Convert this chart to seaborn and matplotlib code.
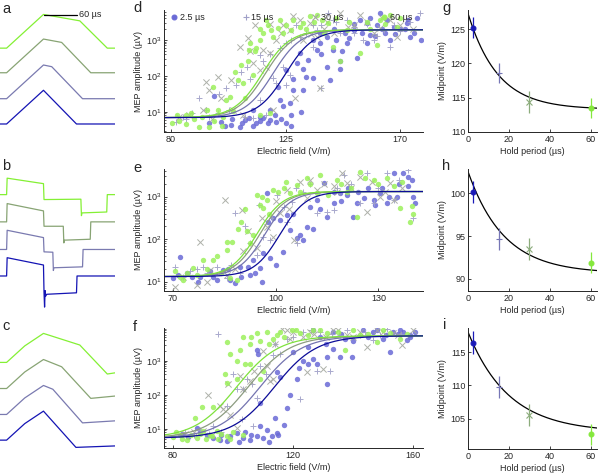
import numpy as np
import matplotlib
matplotlib.use("Agg")
import matplotlib.pyplot as plt
from matplotlib.lines import Line2D
import seaborn as sns

sns.set_theme(style="white")
plt.rcParams.update({
    'font.size': 6.5,
    'axes.labelsize': 6.5,
    'xtick.labelsize': 6.5,
    'ytick.labelsize': 6.5,
    'axes.edgecolor': '#262626',
    'axes.linewidth': 0.7,
    'text.color': '#262626',
    'axes.labelcolor': '#262626',
    'mathtext.fontset': 'custom',
    'mathtext.rm': 'Liberation Sans',
    'mathtext.it': 'Liberation Sans:italic',
})
plt.rcParams['font.family'] = ['Liberation Sans', 'DejaVu Sans']

W, H = 598, 475

HOLDS = [2.5, 15, 30, 60]
HOLD_LABELS = ['2.5 µs', '15 µs', '30 µs', '60 µs']
MARKERS = ['o', '+', 'x', 'o']

WAVE_COLORS = ['#1414b4', '#7a7ab0', '#88a474', '#84f034']
FIT_COLORS = ['#0c0c98', '#7474b0', '#8c9c80', '#7ee23c']
PT_COLORS = ['#6a6ad6', '#a0a0c8', '#a4a8a0', '#9cf05c']
ERR_COLORS = ['#1a1ab8', '#7676b6', '#8cac7c', '#84e83c']

# ---- waveforms (time in us, amplitude normalised to peak) ----
a_t_25 = [0, 12, 79, 139, 209]
a_v_25 = [0, 0, 1.0, 0, 0]
a_t_15 = [0, 12, 79, 94, 150, 209]
a_v_15 = [0, 0, 1.0, 0.95, 0, 0]
a_t_30 = [0, 12, 79, 112, 165, 209]
a_v_30 = [0, 0, 1.0, 0.9, 0, 0]
a_t_60 = [0, 12, 79, 145, 195, 209]
a_v_60 = [0, 0, 1.0, 0.81, 0, 0]

b_t_25 = [0, 12, 13, 79, 80, 81, 82, 83, 85, 139, 140, 209]
b_v_25 = [0, 0, 1.0, 0.6, -0.9, -1.7, -0.8, -1.1, -1.0, -0.92, 0, 0]
b_t_15 = [0, 12, 13, 79, 80, 96, 97, 98, 150, 151, 209]
b_v_15 = [0, 0, 1.05, 0.65, -0.13, -0.15, -1.15, -1.0, -0.95, 0, 0]
b_t_30 = [0, 12, 13, 79, 80, 115, 116, 117, 164, 165, 209]
b_v_30 = [0, 0, 1.0, 0.6, -0.24, -0.24, -1.15, -1.0, -0.95, 0, 0]
b_t_60 = [0, 12, 13, 79, 80, 147, 148, 149, 194, 195, 209]
b_v_60 = [0, 0, 0.9, 0.6, -0.27, -0.25, -1.15, -1.0, -0.95, 0, 0]

c_t_25 = [0, 12, 45, 79, 138, 209]
c_v_25 = [0, 0, 0.57, 1.0, -0.25, -0.2]
c_t_15 = [0, 12, 45, 79, 96, 150, 209]
c_v_15 = [0, 0, 0.57, 1.0, 0.87, -0.29, -0.22]
c_t_30 = [0, 12, 45, 79, 112, 165, 209]
c_v_30 = [0, 0, 0.57, 1.0, 0.75, -0.34, -0.26]
c_t_60 = [0, 12, 45, 79, 145, 195, 209]
c_v_60 = [0, 0, 0.57, 1.0, 0.6, -0.4, -0.36]

# ---- MEP scatter: (electric field V/m, log10 amplitude uV) ----
d_pts_25 = [(97, 1.44), (95, 0.69), (99.6, 0.73), (103.6, 0.64), (109.2, 0.76), (112.1, 1.06),
            (113.5, 0.69), (114.8, 0.87), (118.7, 1.06), (120.7, 0.92), (118, 0.69), (122.7, 1.33),
            (124, 1.15), (126.6, 1.24), (128, 1.61), (131.9, 1.61), (125.3, 2.17), (129.3, 2.35),
            (130.6, 2.63), (133.9, 2.44), (135.9, 1.94), (135.9, 3.0), (137.2, 2.72), (138.5, 2.91),
            (141.1, 3.09), (143.8, 2.72), (147.1, 2.68), (146.4, 2.4), (153, 2.49), (148.4, 3.19),
            (151.7, 3.28), (154.3, 3.56), (156.9, 3.46), (158.3, 3.14), (160.9, 3.42), (162.2, 3.74),
            (164.2, 3.19), (164.8, 3.56), (167.5, 3.37), (172.8, 3.46), (175.4, 3.19), (178.2, 3.0),
            (171.9, 3.3), (174, 3.07), (176.8, 3.6), (106.9, 0.59), (110.8, 0.82), (121.4, 0.73),
            (116.1, 0.82), (127.3, 0.92), (133.2, 1.98), (141.1, 2.26), (142.4, 1.89), (146.4, 2.2),
            (138.5, 3.19), (149, 2.91), (157, 2.91), (166.2, 3.0), (131, 1.0), (123, 0.8),
            (127, 0.62), (119, 0.78), (112, 0.6), (104, 0.8), (101, 0.62), (108, 0.7), (115, 0.75),
            (125, 0.7), (145, 3.0), (150, 3.05), (155, 3.2), (160, 3.1), (163, 3.3), (168, 3.15),
            (170, 3.3), (173, 3.55), (158, 3.6), (152, 3.45), (144, 3.3), (139, 2.6), (132, 2.2),
            (128, 1.9), (122, 1.7)]
d_pts_15 = [(91.1, 1.38), (101.6, 1.66), (105.6, 1.75), (107.5, 2.12), (109.8, 2.26), (108.9, 0.87),
            (102.9, 1.06), (98.3, 0.96), (93.7, 1.06), (88.4, 0.96), (114.8, 1.33), (120.1, 1.94),
            (121.4, 1.8), (124, 2.26), (125.3, 1.75), (126.6, 2.03), (117.4, 0.92), (114.8, 2.58),
            (122.7, 2.77), (127.3, 3.0), (130.6, 3.09), (133.2, 3.19), (141.8, 3.74), (143.8, 3.56),
            (149, 3.56), (151.7, 3.37), (155.6, 3.0), (159.6, 3.0), (163.5, 3.28), (166.2, 2.81),
            (167.5, 3.42), (137.2, 3.28), (135.9, 2.81), (146.4, 3.19), (135.9, 3.42), (81.8, 0.73),
            (84.5, 0.87), (95, 0.87), (112.1, 0.82), (178, 3.74), (138.9, 1.66), (86, 0.8),
            (99, 1.5), (111, 1.9), (116, 2.4), (119, 2.6), (125, 2.9), (129, 3.4), (139, 3.4),
            (145, 3.5), (152, 3.2), (157, 3.45), (161, 3.1), (170, 3.25), (174, 3.5)]
d_pts_30 = [(93.7, 1.84), (95, 1.61), (99.6, 1.38), (103.6, 1.89), (107, 2.81), (110.2, 3.05),
            (112.1, 2.35), (114.8, 2.17), (117.4, 2.26), (116.1, 2.72), (124, 3.42), (126.6, 3.28),
            (121.4, 3.0), (128.6, 1.38), (138.5, 1.66), (92.4, 1.06), (87.1, 0.92), (104.2, 1.06),
            (108.2, 0.92), (120.1, 1.06), (130.6, 3.56), (134.5, 3.46), (141.1, 3.51), (146.4, 3.74),
            (149.7, 3.37), (154.3, 3.69), (159.6, 3.19), (162.2, 3.32), (166.2, 3.56), (168.8, 3.09),
            (131.9, 3.0), (137.2, 3.09), (98.3, 1.98), (118.7, 2.63), (83, 0.85), (96, 0.8),
            (111, 2.7), (113, 3.4), (119, 3.45), (123, 3.2), (128, 3.65), (135, 3.15), (140, 3.3),
            (144, 3.2), (152, 3.4), (157, 3.5), (163, 3.6), (170, 3.4), (175, 3.3)]
d_pts_60 = [(80.5, 0.69), (82.5, 0.92), (85.8, 0.92), (87.8, 0.96), (91.1, 0.59), (95, 0.59),
            (96.3, 1.7), (98.3, 1.06), (100.3, 0.87), (101.6, 1.33), (104.2, 1.01), (106.2, 1.89),
            (107.5, 2.31), (108.2, 1.8), (108.9, 1.38), (110.2, 2.4), (110.8, 2.72), (112.8, 2.68),
            (112.1, 2.03), (113.5, 2.77), (114.8, 3.0), (116.1, 3.19), (117.4, 3.56), (119.4, 3.28),
            (120.1, 3.09), (122, 3.32), (122.7, 3.56), (125.3, 3.42), (127.3, 3.28), (131.9, 3.46),
            (134.5, 3.65), (137.2, 3.69), (139.2, 3.56), (141.8, 3.46), (143.8, 2.81), (146.4, 2.4),
            (154.3, 2.63), (160.9, 2.86), (156.9, 3.51), (162.2, 3.56), (166.2, 3.69), (168.8, 3.37),
            (118.7, 0.96), (114.8, 0.92), (130.6, 3.37), (149, 3.28), (83, 0.75), (86, 0.65),
            (89, 0.8), (92, 0.85), (97, 0.75), (100, 0.62), (94, 1.05), (103, 1.4), (105, 2.1),
            (111, 2.9), (115, 3.3), (118, 3.4), (124, 3.2), (128, 3.55), (133, 3.3), (136, 3.5),
            (140, 3.2), (145, 3.6), (150, 3.5), (158, 3.3), (164, 3.45), (170, 3.6)]

e_pts_25 = [(72, 1.59), (70.1, 1.08), (71.6, 1.16), (75.5, 1.12), (77.4, 1.0), (80.8, 1.24),
            (81.8, 1.12), (84.7, 1.27), (86.7, 1.04), (88.1, 0.96), (89.6, 1.35), (92, 1.35),
            (93.5, 1.51), (95.4, 1.31), (96.4, 1.67), (98.4, 1.55), (92.5, 1.16), (97.4, 3.08),
            (97.9, 2.41), (99.3, 2.49), (101.3, 2.45), (103.2, 2.57), (104.2, 2.22), (106.2, 2.02),
            (107.1, 2.1), (108.1, 1.98), (109.1, 2.29), (111, 2.25), (110.1, 2.76), (112, 2.92),
            (114.9, 2.53), (116.9, 2.84), (118.8, 3.08), (120.8, 3.04), (123.7, 2.84), (125.7, 2.96),
            (128.6, 2.92), (130.5, 3.08), (132.5, 2.84), (134.4, 3.55), (135.4, 3.0), (114, 3.31),
            (122.7, 2.53), (137.3, 3.55), (138.7, 3.47), (139.7, 3.39), (138.7, 3.24), (140.7, 2.84),
            (140.2, 3.0), (74, 1.2), (78, 1.1), (83, 1.05), (86, 1.3), (90, 1.1), (94, 1.2),
            (96, 1.0), (100, 1.4), (102, 1.7), (105, 2.6), (113, 2.7), (117, 3.1), (119, 2.9),
            (121, 3.2), (124, 3.1), (127, 3.2), (129, 2.8), (131, 3.2), (133, 3.0), (136, 3.3)]
e_pts_15 = [(70.6, 1.35), (75, 1.24), (78.9, 1.35), (82.8, 1.35), (88.1, 2.61), (92.5, 1.9),
            (94.5, 1.63), (96.4, 2.06), (98.4, 1.98), (100.3, 3.04), (102.3, 2.76), (103.2, 2.41),
            (104.7, 2.88), (108.1, 3.12), (112, 2.61), (114.9, 2.65), (116.9, 2.69), (119.8, 3.51),
            (124.7, 2.84), (126.6, 3.55), (128.6, 2.84), (132.5, 3.55), (134.4, 2.92), (106.2, 1.9),
            (85.7, 1.08), (89.6, 1.2), (138.7, 3.63), (140.2, 2.49), (73, 1.1), (77, 1.3),
            (80, 1.2), (87, 1.4), (91, 2.3), (95, 2.8), (99, 2.5), (106, 3.2), (110, 3.3),
            (118, 3.2), (122, 3.3), (130, 3.2), (136, 3.4)]
e_pts_30 = [(70.6, 0.88), (78, 1.94), (77, 0.92), (85.2, 2.92), (90.1, 2.69), (90.6, 1.71),
            (94.5, 1.78), (97.4, 2.29), (101.3, 2.61), (105.2, 1.98), (107.1, 3.35), (109.1, 2.96),
            (112, 3.16), (116.9, 3.24), (119.3, 3.55), (120.8, 3.31), (124.7, 3.47), (126.6, 2.65),
            (130.5, 3.0), (133.4, 3.31), (134.4, 2.92), (80.8, 1.27), (85.7, 1.16), (99.3, 2.06),
            (103.2, 3.16), (73, 1.1), (80, 1.0), (88, 1.3), (92, 2.2), (96, 2.5), (100, 2.9),
            (104, 2.7), (110, 3.4), (114, 3.3), (118, 3.1), (122, 3.2), (128, 3.35), (132, 3.1),
            (137, 3.2)]
e_pts_60 = [(70.6, 1.24), (73, 1.04), (75.9, 1.31), (78.9, 1.51), (81.8, 1.51), (85.7, 1.75),
            (87.2, 1.94), (89.1, 2.25), (85.7, 1.94), (86.7, 1.08), (88.6, 1.04), (91.5, 2.18),
            (92.5, 1.9), (93.5, 2.1), (94.5, 3.04), (95.4, 2.8), (96.4, 2.73), (97.4, 2.92),
            (99.3, 3.16), (100.8, 3.12), (102.3, 3.2), (104.2, 3.08), (106.2, 3.27), (109.1, 3.43),
            (112, 3.08), (115.4, 3.04), (117.9, 3.39), (120.8, 3.12), (123.7, 2.53), (124.7, 3.59),
            (128.6, 3.39), (132.5, 3.43), (134.4, 3.24), (136.4, 2.73), (139.7, 2.79), (139.2, 2.4),
            (140.2, 2.6), (72, 1.1), (74, 1.2), (77, 1.15), (80, 1.3), (83, 1.6), (84, 1.2),
            (90, 2.4), (91, 2.7), (96, 3.0), (98, 2.6), (103, 3.35), (107, 3.1), (110, 3.3),
            (113, 3.5), (119, 3.3), (122, 3.2), (126, 3.45), (130, 3.3), (137, 3.35)]

f_pts_25 = [(87.9, 1.02), (91.2, 0.82), (93.4, 0.72), (95.7, 0.67), (99, 0.77), (101.2, 0.87),
            (103.4, 0.72), (105.7, 0.67), (107.9, 0.77), (109, 1.07), (111.2, 0.97), (114.6, 0.87),
            (115.1, 0.82), (114, 1.32), (117.9, 1.62), (109, 1.77), (115.7, 2.51), (114.6, 2.66),
            (121.2, 2.46), (123.4, 3.01), (125.1, 2.91), (126.8, 3.06), (127.9, 2.91), (131.2, 3.11),
            (133.4, 3.36), (135.7, 3.11), (139.6, 3.11), (131.2, 2.31), (107.9, 3.31), (108.4, 3.21),
            (120.1, 3.26), (137.3, 3.66), (143.4, 3.91), (146.8, 3.86), (150.1, 3.66), (153.4, 3.86),
            (152.3, 3.26), (155.7, 3.91), (156.8, 3.86), (158.9, 3.76), (160.6, 3.86), (157.9, 3.61),
            (133.4, 3.86), (126.8, 3.91), (83, 0.85), (85, 0.75), (89, 0.9), (96, 0.8), (98, 0.65),
            (102, 0.6), (104, 0.9), (106, 0.8), (110, 0.72), (112, 0.6), (113, 0.78), (117, 1.1),
            (119, 2.0), (122, 2.8), (125, 3.4), (129, 3.7), (131, 3.5), (136, 3.8), (140, 3.6),
            (145, 3.7), (148, 3.9), (151, 3.75), (155, 3.8), (159, 3.7)]
f_pts_15 = [(95.1, 3.78), (100.1, 2.61), (101.2, 2.16), (103.4, 2.18), (104.6, 2.46), (106.2, 2.31),
            (97.9, 1.67), (106.8, 1.07), (93.4, 1.07), (109, 2.86), (113.4, 3.16), (115.7, 3.21),
            (117.9, 3.66), (123.4, 3.86), (127.9, 2.71), (132.3, 2.71), (129, 3.86), (135.7, 3.76),
            (142.3, 3.76), (146.8, 3.61), (151.2, 3.93), (122.3, 1.87), (89, 0.97), (84, 0.9),
            (87, 0.8), (92, 0.85), (96, 0.9), (103, 1.3), (108, 1.9), (111, 2.6), (114, 3.5),
            (120, 3.7), (126, 3.9), (133, 3.8), (138, 3.9), (144, 3.85), (149, 3.75), (156, 3.8)]
f_pts_30 = [(91.8, 1.99), (95.7, 1.67), (98.4, 2.31), (102.3, 2.56), (103.4, 2.16), (105.7, 2.41),
            (111.2, 2.86), (112.3, 2.41), (113.4, 2.46), (116.2, 3.93), (119, 3.66), (120.1, 3.86),
            (123.4, 3.71), (125.7, 3.86), (124.6, 2.66), (130.1, 2.76), (133.4, 3.91), (137.9, 3.76),
            (142.3, 3.86), (144.6, 3.41), (147.9, 3.91), (153.4, 3.81), (90.1, 0.92), (101.2, 1.02),
            (96.8, 1.57), (156.3, 3.46), (84, 0.85), (87, 0.9), (93, 0.8), (99, 1.4), (107, 2.7),
            (110, 3.3), (114, 3.5), (118, 3.9), (127, 3.8), (131, 3.7), (135, 3.9), (140, 3.7),
            (150, 3.85), (155, 3.75), (160, 3.9)]
f_pts_60 = [(82.3, 0.82), (84.6, 0.67), (87.3, 1.32), (90.1, 0.92), (93.4, 1.65), (97.9, 3.56),
            (99, 3.21), (101.2, 3.01), (102.3, 3.31), (97.3, 2.61), (97.9, 2.36), (101.2, 2.46),
            (103.4, 3.71), (105.7, 3.51), (105.7, 2.91), (107.9, 3.81), (109, 2.46), (110.1, 2.71),
            (111.2, 3.86), (113.4, 3.66), (114.6, 3.76), (115.7, 3.86), (119.6, 3.91), (122.3, 3.81),
            (126.8, 3.91), (131.2, 3.81), (137.3, 3.31), (142.3, 3.76), (147.9, 3.56), (152.3, 3.81),
            (155.7, 3.66), (92.3, 0.82), (97.9, 0.77), (103.4, 0.82), (94.6, 0.92), (89.6, 1.63),
            (80, 0.75), (81, 0.9), (83, 0.7), (86, 0.8), (88, 0.72), (89, 0.85), (91, 0.7),
            (93, 0.78), (95, 0.7), (96, 0.85), (99, 0.7), (100, 0.9), (104, 2.9), (106, 3.7),
            (109, 3.6), (112, 3.5), (117, 3.7), (121, 3.9), (125, 3.75), (129, 3.9), (135, 3.85),
            (140, 3.9), (145, 3.8), (150, 3.9), (158, 3.8)]

# sigmoid fits in log10 space: plateaus, slope and midpoints per hold period
d_lo, d_hi, d_slope = 0.84, 3.28, 5.5
d_mid = [125.0, 120.0, 117.0, 115.8]
e_lo, e_hi, e_slope = 1.12, 3.12, 3.8
e_mid = [101.3, 96.9, 95.4, 94.5]
f_lo, f_hi, f_slope = 0.72, 3.74, 7.0
f_mid = [113.8, 109.0, 105.0, 101.2]

# ---- midpoint vs hold period ----
g_mid = [125.2, 118.6, 114.4, 113.5]
g_err = [1.55, 1.45, 1.6, 1.45]
g_fit = (113.3, 14.0, 14.5)
h_mid = [100.1, 94.65, 93.5, 91.9]
h_err = [1.3, 1.25, 1.25, 1.2]
h_fit = (90.65, 11.85, 17.6)
i_mid = [116.4, 109.8, 105.6, 102.7]
i_err = [1.7, 1.65, 1.65, 1.6]
i_fit = (103.0, 15.0, 20.0)


def px_axes(fig, left, top, right, bottom):
    return fig.add_axes([left / W, 1 - bottom / H, (right - left) / W, (bottom - top) / H])


def style_axes(ax):
    sns.despine(ax=ax)
    ax.tick_params(which='major', direction='in', length=2.5, width=0.6, pad=2,
                   colors='#262626', bottom=True, left=True)
    ax.tick_params(which='minor', direction='in', length=1.4, width=0.5, left=True)


def draw_waves(ax, traces, offsets, ylim):
    for (t, v), off, col in zip(traces, offsets, WAVE_COLORS):
        sns.lineplot(x=t, y=np.array(v) + off, ax=ax, color=col, lw=0.9,
                     sort=False, estimator=None, legend=False)
    ax.set_xlim(0, 209)
    ax.set_ylim(*ylim)
    ax.axis('off')


def draw_mep(ax, pts, lo, hi, slope, mids, xlim, ylim, xticks):
    for p, mk, col in zip(pts, MARKERS, PT_COLORS):
        arr = np.array(p)
        if mk == 'o':
            sns.scatterplot(x=arr[:, 0], y=10 ** arr[:, 1], ax=ax, color=col, marker='o',
                            s=15, linewidth=0, alpha=0.85, legend=False)
        else:
            sns.scatterplot(x=arr[:, 0], y=10 ** arr[:, 1], ax=ax, color=col, marker=mk,
                            s=20, linewidth=0.7, alpha=0.9, legend=False)
    xx = np.linspace(xlim[0], xlim[1], 300)
    for k in [1, 2, 3, 0]:
        yy = 10 ** (lo + (hi - lo) / (1 + np.exp(-(xx - mids[k]) / slope)))
        sns.lineplot(x=xx, y=yy, ax=ax, color=FIT_COLORS[k], lw=0.9,
                     sort=False, estimator=None, legend=False)
    ax.set_yscale('log')
    ax.set_xlim(*xlim)
    ax.set_ylim(10 ** ylim[0], 10 ** ylim[1])
    ax.set_xticks(xticks)
    ax.set_xlabel('Electric field (V/m)', labelpad=2)
    ax.set_ylabel('MEP amplitude (µV)', labelpad=2)
    style_axes(ax)


def draw_mid(ax, mids, errs, fit, ylim, yticks):
    tt = np.linspace(0, 63, 200)
    c, b, tau = fit
    sns.lineplot(x=tt, y=c + b * np.exp(-tt / tau), ax=ax, color='black', lw=0.9,
                 sort=False, estimator=None, legend=False)
    for hold, m, e, mk, col in zip(HOLDS, mids, errs, MARKERS, ERR_COLORS):
        ax.errorbar(hold, m, yerr=e, fmt=mk, color=col, ms=3.5 if mk == 'o' else 4.5,
                    mew=0.8, elinewidth=0.9, capsize=0)
    ax.set_xlim(0, 63)
    ax.set_ylim(*ylim)
    ax.set_xticks([0, 20, 40, 60])
    ax.set_yticks(yticks)
    ax.set_xlabel('Hold period (µs)', labelpad=2)
    ax.set_ylabel('Midpoint (V/m)', labelpad=2)
    style_axes(ax)


fig = plt.figure(figsize=(W / 100, H / 100), dpi=100)

ax_a = px_axes(fig, 0, 5, 115, 140)
draw_waves(ax_a, [(a_t_25, a_v_25), (a_t_15, a_v_15), (a_t_30, a_v_30), (a_t_60, a_v_60)],
           [0, 0.75, 1.52, 2.25], (-0.475, 3.53))
sns.lineplot(x=[80, 140], y=[3.24, 3.24], ax=ax_a, color='black', lw=0.9, legend=False)
ax_a.text(143, 3.24, '60 µs', va='center', ha='left', fontsize=6.5)

ax_b = px_axes(fig, 0, 165, 115, 310)
draw_waves(ax_b, [(b_t_25, b_v_25), (b_t_15, b_v_15), (b_t_30, b_v_30), (b_t_60, b_v_60)],
           [0, 1.45, 2.96, 4.45], (-1.86, 6.07))

ax_c = px_axes(fig, 0, 325, 115, 470)
draw_waves(ax_c, [(c_t_25, c_v_25), (c_t_15, c_v_15), (c_t_30, c_v_30), (c_t_60, c_v_60)],
           [0, 0.885, 1.78, 2.68], (-1.03, 3.97))

ax_d = px_axes(fig, 164, 10, 423, 132)
draw_mep(ax_d, [d_pts_25, d_pts_15, d_pts_30, d_pts_60], d_lo, d_hi, d_slope, d_mid,
         (77.2, 179), (0.44, 3.83), [80, 125, 170])
ax_e = px_axes(fig, 164, 169, 423, 291)
draw_mep(ax_e, [e_pts_25, e_pts_15, e_pts_30, e_pts_60], e_lo, e_hi, e_slope, e_mid,
         (67.4, 143), (0.78, 3.65), [70, 100, 130])
ax_f = px_axes(fig, 164, 328, 423, 448)
draw_mep(ax_f, [f_pts_25, f_pts_15, f_pts_30, f_pts_60], f_lo, f_hi, f_slope, f_mid,
         (77, 163.3), (0.43, 3.97), [80, 120, 160])

handles = [Line2D([], [], ls='', marker=mk, color=col, ms=3.5 if mk == 'o' else 4.5, mew=0.8)
           for mk, col in zip(MARKERS, PT_COLORS)]
ax_d.legend(handles, HOLD_LABELS, loc='center', bbox_to_anchor=(0.49, 0.94), ncol=4,
            frameon=False, fontsize=6.5, handletextpad=0.1, columnspacing=4.1,
            handlelength=1.0, borderpad=0)

ax_g = px_axes(fig, 468, 10, 597, 132)
draw_mid(ax_g, g_mid, g_err, g_fit, (110, 127.8), [110, 115, 120, 125])
ax_h = px_axes(fig, 468, 169, 597, 291)
draw_mid(ax_h, h_mid, h_err, h_fit, (88.6, 102.8), [90, 95, 100])
ax_i = px_axes(fig, 468, 328, 597, 449)
draw_mid(ax_i, i_mid, i_err, i_fit, (100.5, 118.6), [105, 110, 115])

for letter, x, y in [('a', 2, 9), ('b', 2, 166), ('c', 2, 326), ('d', 133, 8), ('e', 133, 168),
                     ('f', 133, 327), ('g', 442, 8), ('h', 442, 166), ('i', 443, 325)]:
    fig.text(x / W, 1 - y / H, letter, fontsize=10.5, ha='left', va='center')

fig.savefig('out.png', dpi=100)
